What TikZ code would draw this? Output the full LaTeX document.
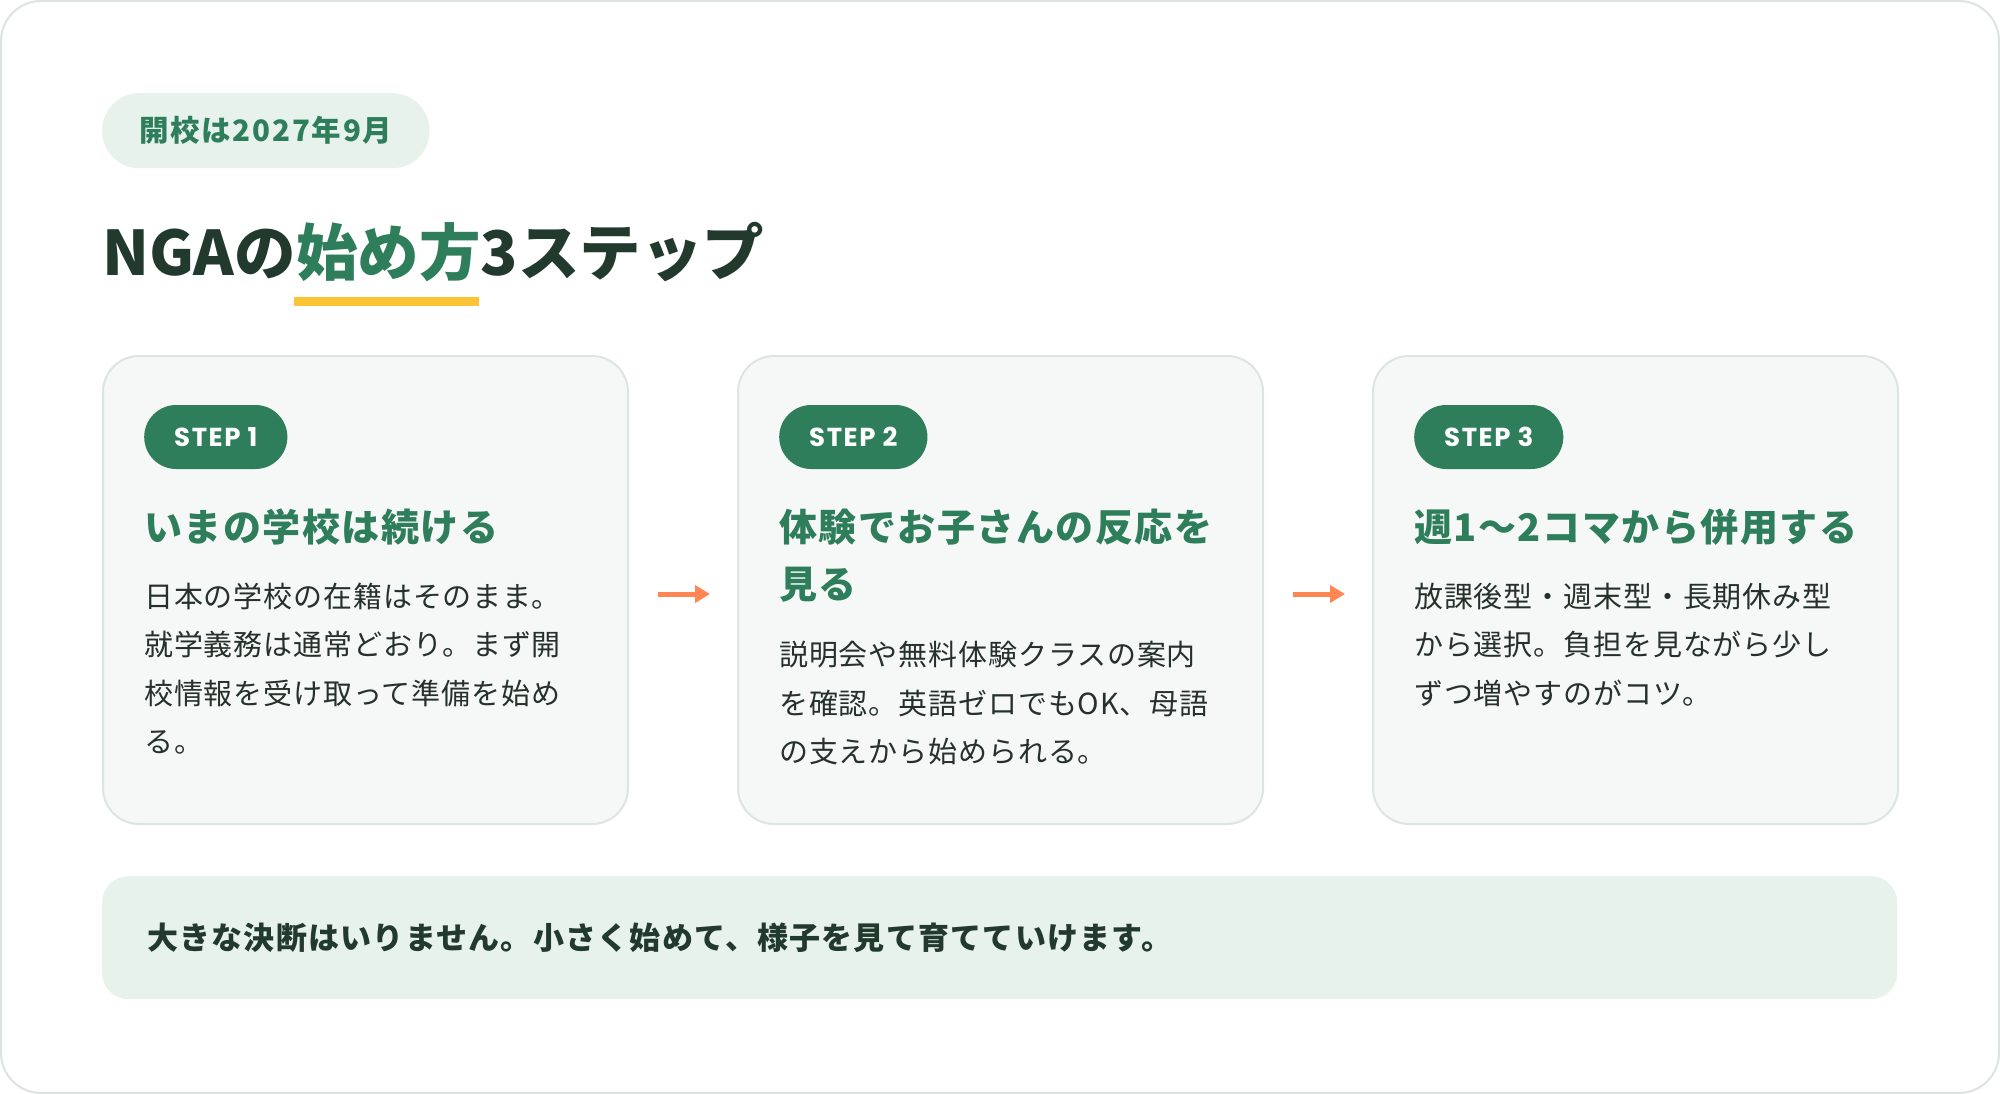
\documentclass[tikz,border=0pt]{standalone}
\usepackage{fontspec}
\setmainfont{Noto Sans CJK JP}
\newfontfamily\jpbody{Noto Sans CJK JP}[LetterSpace=3]
\newfontfamily\jpbar{Noto Sans CJK JP}[LetterSpace=4]
\newfontfamily\jphead{Noto Sans CJK JP}[LetterSpace=4]
\newfontfamily\jppill{Noto Sans CJK JP}[LetterSpace=6]
\newfontfamily\popfont{Poppins}[LetterSpace=6]
\usetikzlibrary{arrows.meta,calc}
\definecolor{framec}{HTML}{DDE3E0}
\definecolor{pillbg}{HTML}{E7F2EC}
\definecolor{brandgreen}{HTML}{2E7D5B}
\definecolor{darktxt}{HTML}{22392E}
\definecolor{cardbg}{HTML}{F6F8F7}
\definecolor{cardline}{HTML}{DCE5E2}
\definecolor{bodytxt}{HTML}{26312C}
\definecolor{arrowc}{HTML}{FF8552}
\definecolor{hlc}{HTML}{FBC437}
\definecolor{barbg}{HTML}{E8F2EC}
\begin{document}
\begin{tikzpicture}[x=1pt,y=-1pt,
  txt/.style={inner sep=0, anchor=base west},
  card/.style={draw=cardline, line width=2, fill=cardbg, rounded corners=36, minimum width=525, minimum height=468, inner sep=0, anchor=north west},
  badge/.style={fill=brandgreen, text=white, rounded corners=32, minimum height=64, inner xsep=30, inner ysep=0, anchor=west, font=\popfont\bfseries\fontsize{26}{30}\selectfont},
  headtxt/.style={txt, text=brandgreen, font=\jphead\bfseries\fontsize{38}{46}\selectfont},
  bodytext/.style={txt, text=bodytxt, font=\jpbody\fontsize{29}{34}\selectfont},
  flow/.style={draw=arrowc, line width=5, -{Triangle[length=15,width=17]}},
]
\useasboundingbox (0,0) rectangle (2000,1094);
\draw[draw=framec, line width=2, fill=white, rounded corners=40] (1,1) rectangle (1999,1093);

% date pill
\node[fill=pillbg, rounded corners=37, minimum height=75, inner xsep=37, inner ysep=0, anchor=north west,
      text=brandgreen, font=\jppill\bfseries\fontsize{29.5}{34}\selectfont] (pill) at (102,93) {開校は2027年9月};

% title
\node[txt, text=darktxt, font=\bfseries\fontsize{61.5}{70}\selectfont] (t1) at (102,276) {NGAの};
\node[txt, text=brandgreen, font=\bfseries\fontsize{61.5}{70}\selectfont] (t2) at (t1.base east) {始め方};
\node[txt, text=darktxt, font=\bfseries\fontsize{61.5}{70}\selectfont] (t3) at (t2.base east) {3ステップ};
\fill[hlc] ($(t2.base west)+(-2,21)$) rectangle ($(t2.base east)+(-2,30)$);

% cards
\node[card] (c1) at (102,355) {};
\node[card] (c2) at (737,355) {};
\node[card] (c3) at (1372,355) {};

% badges
\node[badge] (b1) at (144,437) {STEP 1};
\node[badge] (b2) at (779,437) {STEP 2};
\node[badge] (b3) at (1414,437) {STEP 3};

% card 1
\node[headtxt] (h1) at (144,541) {いまの学校は続ける};
\node[bodytext] (p1a) at (144,607) {日本の学校の在籍はそのまま。};
\node[bodytext] (p1b) at (144,655) {就学義務は通常どおり。まず開};
\node[bodytext] (p1c) at (144,704) {校情報を受け取って準備を始め};
\node[bodytext] (p1d) at (144,752) {る。};

% card 2
\node[headtxt] (h2a) at (779,541) {体験でお子さんの反応を};
\node[headtxt] (h2b) at (779,598) {見る};
\node[bodytext] (p2a) at (779,665) {説明会や無料体験クラスの案内};
\node[bodytext] (p2b) at (779,714) {を確認。英語ゼロでもOK、母語};
\node[bodytext] (p2c) at (779,762) {の支えから始められる。};

% card 3
\node[headtxt] (h3) at (1414,541) {週1〜2コマから併用する};
\node[bodytext] (p3a) at (1414,607) {放課後型・週末型・長期休み型};
\node[bodytext] (p3b) at (1414,655) {から選択。負担を見ながら少し};
\node[bodytext] (p3c) at (1414,704) {ずつ増やすのがコツ。};

% arrows
\draw[flow] ($(c1.east)+(29,4)$) -- ($(c2.west)+(-27,4)$);
\draw[flow] ($(c2.east)+(29,4)$) -- ($(c3.west)+(-27,4)$);

% bottom bar
\node[fill=barbg, rounded corners=26, minimum width=1795, minimum height=123, inner sep=0, anchor=north west] (bar) at (102,876) {};
\node[txt, text=darktxt, font=\jpbar\bfseries\fontsize{31}{36}\selectfont] (bartxt) at (147,949) {大きな決断はいりません。小さく始めて、様子を見て育てていけます。};
\end{tikzpicture}
\end{document}
